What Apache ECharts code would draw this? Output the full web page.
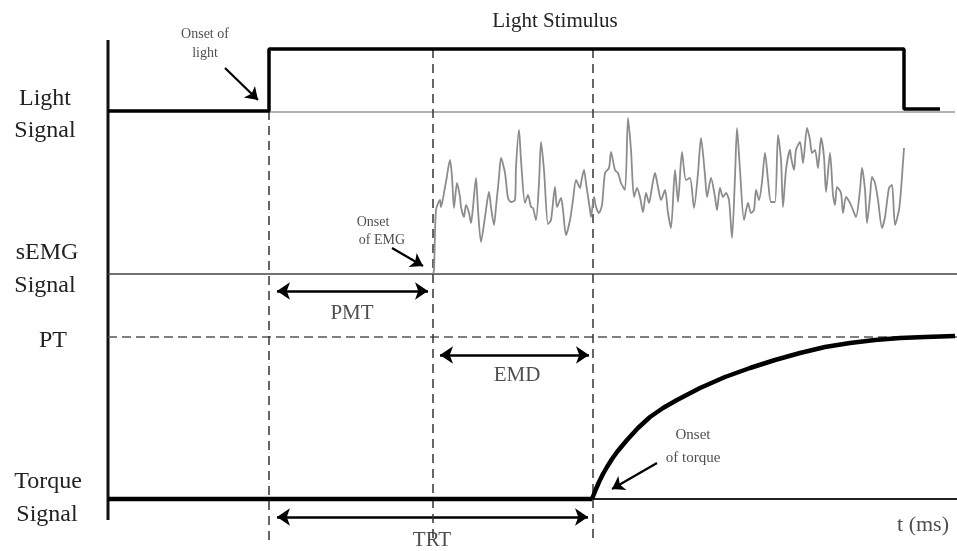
<!DOCTYPE html>
<html>
<head>
<meta charset="utf-8">
<script src="https://cdn.jsdelivr.net/npm/echarts@6/dist/echarts.min.js"></script>
<style>
  html, body { margin: 0; padding: 0; background: #fff; }
  #main { width: 957px; height: 551px; }
</style>
</head>
<body>
<div id="main"></div>
<script>
// t = time (arbitrary ms units), level = vertical position of each trace
var lightSignal = [[0, 409], [161, 409], [161, 471], [796, 471], [796, 411], [832, 411]];
var lightRef = [[161, 408], [847, 408]];
var emgBase = [[0, 246], [849, 246]];
var ptLevel = [[0, 183], [849, 183]];
var torqueBase = [[0, 21], [484, 21]];
var torqueRef = [[484, 21], [849, 21]];
var torqueCurve = [
    [484, 21], [488, 31], [491, 38], [495, 46], [499, 53], [504, 61], [509, 68],
    [519, 80], [530, 92], [542, 103], [555, 112], [569, 120], [592, 132], [617, 143],
    [642, 152], [667, 160], [692, 167], [717, 173], [742, 177], [767, 180],
    [792, 182], [817, 183], [847, 184]
];
var emgSignal = [
    [325, 246], [326, 250], [328, 310], [332, 320], [333, 313], [337, 333], [338, 338],
    [342, 360], [344, 343], [346, 312], [349, 337], [352, 323], [353, 313], [356, 303],
    [358, 315], [361, 307], [363, 297], [365, 313], [368, 342], [370, 310], [373, 278],
    [377, 303], [381, 328], [383, 313], [386, 295], [388, 313], [391, 343], [393, 362],
    [397, 347], [400, 322], [403, 318], [407, 320], [408, 353], [411, 390], [413, 360],
    [417, 317], [420, 325], [423, 313], [425, 312], [428, 300], [431, 337], [433, 378],
    [436, 350], [440, 296], [443, 300], [447, 333], [449, 313], [453, 322], [455, 310],
    [458, 285], [462, 300], [465, 320], [468, 340], [472, 332], [473, 337], [476, 350],
    [478, 337], [482, 310], [483, 303], [486, 323], [488, 313], [491, 307], [494, 315],
    [497, 347], [501, 352], [503, 368], [507, 350], [510, 347], [513, 337], [517, 330],
    [520, 402], [523, 370], [526, 323], [529, 332], [532, 323], [535, 308], [538, 327],
    [541, 317], [544, 333], [547, 347], [550, 333], [553, 320], [557, 330], [560, 307],
    [563, 292], [567, 350], [570, 318], [574, 368], [578, 340], [582, 342], [586, 312],
    [590, 347], [593, 382], [597, 345], [599, 323], [603, 342], [607, 323], [609, 310],
    [612, 332], [615, 323], [618, 327], [621, 320], [624, 282], [627, 343], [629, 392],
    [632, 350], [636, 300], [640, 317], [643, 307], [646, 310], [648, 330], [651, 320],
    [654, 338], [657, 367], [660, 340], [663, 318], [667, 318], [670, 385], [673, 360],
    [675, 313], [678, 350], [682, 370], [683, 363], [686, 350], [688, 370], [692, 378],
    [695, 357], [699, 392], [702, 380], [704, 367], [707, 370], [710, 352], [713, 382],
    [716, 363], [718, 328], [722, 367], [725, 325], [727, 315], [729, 333], [733, 327],
    [735, 307], [738, 323], [742, 317], [745, 310], [748, 303], [752, 330], [754, 352],
    [757, 330], [759, 297], [762, 323], [764, 343], [767, 337], [770, 320], [774, 292],
    [777, 303], [781, 332], [784, 335], [787, 295], [791, 310], [793, 330], [796, 372]
];
// onset markers: [t, top level]
var onsets = [[161, 409], [325, 471], [485, 471]];
var onsetBottom = -20;
// double arrows: [from t, to t, level]
var intervals = [[169, 320, 229], [332, 481, 165], [169, 480, 3]];
// pointer arrows: [[t1, v1], [t2, v2]]
var pointers = [
    [[117, 452], [150, 420]],
    [[284, 272], [315, 254]],
    [[549, 57], [504, 31]]
];
// notes inside the plot: [text, t, level, fontSize]
var notes = [
    ['Onset of\nlight', 97, 476, 14],
    ['Onset', 265, 298, 14],
    ['of EMG', 274, 280, 14],
    ['PMT', 244, 207, 21],
    ['EMD', 409, 145, 21],
    ['TRT', 324, -20, 21],
    ['Onset', 585, 85, 15],
    ['of torque', 585, 62, 15],
    ['t (ms)', 815, -5, 22]
];
var rowLabels = [
    ['Light', 45, 99], ['Signal', 45, 131],
    ['sEMG', 47, 253], ['Signal', 45, 286],
    ['PT', 53, 341],
    ['Torque', 48, 482], ['Signal', 47, 515]
];

var font = '"Liberation Serif", "Times New Roman", serif';
var myChart = echarts.init(document.getElementById('main'));

function lineSeries(data, color, width, type) {
    return {
        type: 'line', data: data, showSymbol: false, silent: true, animation: false,
        lineStyle: {color: color, width: width, type: type || 'solid'}
    };
}

var series = [
    lineSeries([[0, 480], [0, 0]], '#111', 3),
    lineSeries(lightRef, '#9a9a9a', 1.5),
    lineSeries(emgBase, '#444', 1.5),
    lineSeries(ptLevel, '#555', 1.5, [9, 5]),
    lineSeries(torqueRef, '#222', 2)
];
onsets.forEach(function (o) {
    series.push(lineSeries([[o[0], o[1]], [o[0], onsetBottom]], '#333', 1.5, [9, 6]));
});
series.push(lineSeries(lightSignal, '#000', 3.5));
var emg = lineSeries(emgSignal, '#8c8c8c', 1.8);
emg.smooth = 0.25;
series.push(emg);
series.push(lineSeries(torqueBase, '#000', 4.5));
series.push(lineSeries(torqueCurve, '#000', 4.5));

series.push({
    type: 'lines', coordinateSystem: 'cartesian2d', silent: true, animation: false,
    symbol: ['arrow', 'arrow'], symbolSize: 13,
    lineStyle: {color: '#000', width: 2.5, opacity: 1},
    data: intervals.map(function (d) { return {coords: [[d[0], d[2]], [d[1], d[2]]]}; })
});
series.push({
    type: 'lines', coordinateSystem: 'cartesian2d', silent: true, animation: false,
    symbol: ['none', 'arrow'], symbolSize: 12,
    lineStyle: {color: '#000', width: 2.2, opacity: 1},
    data: pointers.map(function (p) { return {coords: p}; })
});
series.push({
    type: 'scatter', silent: true, animation: false, symbolSize: 0, clip: false,
    data: notes.map(function (n) {
        return {
            value: [n[1], n[2]],
            label: {show: true, position: 'inside', formatter: n[0], fontSize: n[3],
                fontFamily: font, color: '#222', lineHeight: n[3] * 1.35}
        };
    })
});

option = {
    backgroundColor: '#fff',
    grid: {left: 108, top: 40, width: 849, height: 505},
    xAxis: {type: 'value', min: 0, max: 849, show: false},
    yAxis: {type: 'value', min: -25, max: 480, show: false},
    graphic: [{
        type: 'text', x: 555, y: 21, silent: true,
        style: {text: 'Light Stimulus', font: '21px ' + font, fill: '#222',
            textAlign: 'center', textVerticalAlign: 'middle'}
    }].concat(rowLabels.map(function (r) {
        return {
            type: 'text', x: r[1], y: r[2], silent: true,
            style: {text: r[0], font: '24px ' + font, fill: '#222',
                textAlign: 'center', textVerticalAlign: 'middle'}
        };
    })),
    series: series
};

myChart.setOption(option);
</script>
</body>
</html>
